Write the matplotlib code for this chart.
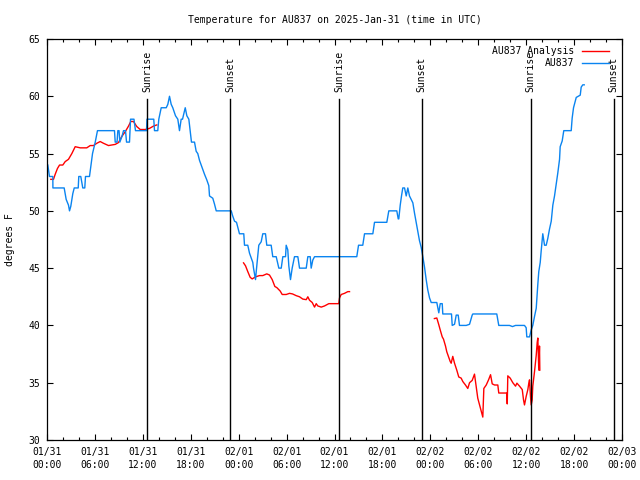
"""Temperature trace for station AU837 with analysis overlay and sun lines."""

import matplotlib

matplotlib.use("Agg")
import matplotlib.dates as mdates
import matplotlib.pyplot as plt
import matplotlib.transforms as mtransforms
import numpy as np
import pandas as pd

START = pd.Timestamp("2025-01-31 00:00")
TITLE = "Temperature for AU837 on 2025-Jan-31 (time in UTC)"

# observed temperature, hours after START and degrees F
obs_hours = [
    0.10, 0.31, 0.73, 0.74, 2.15, 2.40, 2.69, 2.82, 2.98, 3.23, 3.41, 3.91,
    3.98, 4.23, 4.48, 4.73, 4.82, 5.32, 5.70, 6.04, 6.32, 8.45, 8.54, 8.77,
    8.87, 9.02, 9.12, 9.39, 9.58, 9.83, 9.96, 10.33, 10.46, 10.89, 11.08,
    12.46, 12.52, 13.37, 13.46, 13.87, 14.00, 14.30, 14.93, 15.13, 15.34,
    15.55, 15.75, 16.09, 16.38, 16.59, 16.80, 16.97, 17.31, 17.51, 17.76,
    17.93, 18.09, 18.47, 18.68, 18.88, 19.10, 19.31, 19.51, 19.72, 20.01,
    20.26, 20.35, 20.76, 20.97, 21.19, 23.07, 23.23, 23.48, 23.73, 23.98,
    24.10, 24.64, 24.73, 25.14, 25.36, 25.57, 25.77, 25.86, 26.11, 26.20,
    26.52, 26.82, 27.02, 27.36, 27.52, 28.07, 28.27, 28.70, 29.03, 29.33,
    29.53, 29.87, 29.95, 30.15, 30.28, 30.49, 30.70, 30.99, 31.41, 31.62,
    32.46, 32.66, 32.96, 33.08, 33.28, 33.50, 38.79, 39.01, 39.54, 39.76,
    40.80, 41.01, 42.55, 42.80, 43.80, 43.98, 44.05, 44.23, 44.39, 44.55,
    44.77, 44.98, 45.18, 45.39, 45.81, 46.02, 46.23, 46.43, 46.64, 46.86,
    47.06, 47.27, 47.48, 47.68, 47.90, 48.11, 48.81, 49.06, 49.24, 49.49,
    49.56, 50.65, 50.74, 51.03, 51.24, 51.49, 51.65, 52.49, 52.91, 53.24,
    53.32, 56.32, 56.57, 57.91, 58.29, 58.67, 59.79, 60.00, 60.08, 60.42,
    60.63, 60.83, 61.05, 61.26, 61.46, 61.58, 61.76, 61.88, 62.08, 62.17,
    62.30, 62.51, 62.71, 62.92, 63.14, 63.34, 63.55, 63.76, 63.96, 64.18,
    64.26, 64.51, 64.71, 65.64, 65.76, 65.93, 66.27, 66.77, 66.89, 67.09,
    67.27,
]
obs_temp = [
    54.0, 53.0, 53.0, 52.0, 52.0, 51.0, 50.5, 50.0, 50.4, 51.5, 52.0, 52.0,
    53.0, 53.0, 52.0, 52.0, 53.0, 53.0, 55.0, 56.0, 57.0, 57.0, 56.0, 56.0,
    57.0, 57.0, 56.0, 56.5, 57.0, 57.0, 56.0, 56.0, 58.0, 58.0, 57.0,
    57.0, 58.0, 58.0, 57.0, 57.0, 58.0, 59.0, 59.0, 59.3, 60.0,
    59.3, 59.0, 58.3, 58.0, 57.0, 58.0, 58.0, 59.0, 58.3, 58.0,
    57.0, 56.0, 56.0, 55.2, 55.0, 54.4, 54.0, 53.6, 53.2, 52.7,
    52.2, 51.3, 51.1, 50.6, 50.0, 50.0, 49.6, 49.1, 49.0, 48.3,
    48.0, 48.0, 47.0, 47.0, 46.3, 45.9, 45.5, 45.0, 44.0, 44.7,
    47.0, 47.3, 48.0, 48.0, 47.0, 47.0, 46.0, 46.0, 45.0, 45.0,
    46.0, 46.0, 47.0, 46.6, 45.2, 44.0, 45.0, 46.0, 46.0, 45.0,
    45.0, 46.0, 46.0, 45.0, 45.7, 46.0, 46.0, 47.0, 47.0, 48.0,
    48.0, 49.0, 49.0, 50.0, 50.0, 49.3, 49.3, 50.5, 51.3, 52.0,
    52.0, 51.3, 52.0, 51.3, 50.7, 49.8, 49.0, 48.2, 47.4, 46.8,
    46.0, 45.1, 44.0, 43.1, 42.4, 42.0, 42.0, 41.1, 41.9, 41.9,
    41.0, 41.0, 40.0, 40.1, 40.9, 40.9, 40.0, 40.0, 40.1, 40.9,
    41.0, 41.0, 40.0, 40.0, 39.9, 40.0, 40.0, 39.8, 39.0, 39.0,
    39.6, 40.0, 40.8, 41.5, 43.6, 44.7, 45.5, 46.5, 48.0, 47.6,
    47.0, 47.0, 47.6, 48.4, 49.1, 50.5, 51.3, 52.3, 53.3, 54.5,
    55.6, 56.1, 57.0, 57.0, 58.1, 59.0, 59.9, 60.1, 60.8, 61.0,
    61.0,
]

# analysis temperature, nan marks gaps in the analysis
ana_hours = [
    0.48, 0.81, 1.03, 1.31, 1.57, 1.98, 2.28, 2.69, 3.11, 3.53, 4.16, 4.98,
    5.41, 5.82, 6.24, 6.66, 7.07, 7.70, 8.54, 8.95, 9.37, 9.79, 10.21, 10.49,
    10.83, 11.24, 11.67, 12.30, 12.84, 13.34, 13.75, np.nan,
    24.61, 24.86, 25.14, 25.44, 25.69, 26.11, 26.61, 27.02, 27.52, 27.86,
    28.20, 28.53, 28.78, 29.20, 29.45, 29.95, 30.37, 30.74, 31.20, 31.62,
    32.03, 32.46, 32.66, 32.87, 33.21, 33.50, 33.71, 33.91, 34.34, 34.75,
    35.29, 36.21, 36.54, 36.63, 36.84, 37.25, 37.67, 37.88, np.nan,
    48.51, 48.81, 49.06, 49.24, 49.49, 49.65, 49.90, 50.06, 50.31, 50.49,
    50.61, 50.81, 51.03, 51.31, 51.56, 51.86, 52.07, 52.40, 52.69, 52.91,
    53.24, 53.53, 53.74, 53.94, 54.37, 54.57, 54.70, 55.00, 55.29, 55.54,
    55.75, 56.04, 56.45, 56.57, 57.58, 57.63, 57.70, 58.00, 58.33, 58.67,
    58.84, 59.17, 59.51, 59.67, 59.79, 60.00, 60.21, 60.33, 60.42, 60.54,
    60.63, 60.75, 60.83, 61.05, 61.26, 61.38, 61.46, 61.51, 61.58, 61.67,
    61.71,
]
ana_temp = [
    52.75, 52.75, 53.2, 53.7, 54.0, 54.0, 54.3, 54.5, 55.0, 55.6, 55.5, 55.5,
    55.7, 55.7, 55.9, 56.05, 55.9, 55.7, 55.8, 55.96, 56.5, 56.9, 57.4, 57.8,
    57.8, 57.36, 57.1, 57.1, 57.2, 57.4, 57.5, np.nan,
    45.46, 45.2, 44.7, 44.2, 44.06, 44.24, 44.35, 44.35, 44.5, 44.4,
    44.0, 43.4, 43.3, 43.0, 42.7, 42.7, 42.8, 42.75, 42.6, 42.5,
    42.3, 42.25, 42.5, 42.2, 42.0, 41.6, 41.9, 41.7, 41.6, 41.7,
    41.9, 41.9, 41.9, 42.4, 42.7, 42.8, 42.95, 42.95, np.nan,
    40.6, 40.65, 40.06, 39.6, 39.0, 38.8, 38.2, 37.7, 37.2, 36.85,
    36.7, 37.3, 36.7, 36.1, 35.5, 35.4, 35.1, 34.8, 34.5, 35.0,
    35.2, 35.75, 34.7, 33.65, 32.5, 32.0, 34.5, 34.8, 35.25, 35.7,
    34.9, 34.8, 34.8, 34.1, 34.1, 33.15, 35.6, 35.4, 35.0, 34.7,
    34.96, 34.7, 34.4, 33.5, 33.06, 33.8, 34.4, 34.96, 35.25, 33.8,
    33.06, 33.5, 34.7, 36.0, 37.4, 38.5, 38.9, 37.6, 36.1, 38.2,
    36.1,
]

# sunrise / sunset, hours after START
sun_hours = [12.55, 22.93, 36.55, 46.92, 60.55, 70.95]
sun_labels = ["Sunrise", "Sunset", "Sunrise", "Sunset", "Sunrise", "Sunset"]

OBS_COLOR = "#0a84f0"
ANA_COLOR = "#ff0000"
FONT = "DejaVu Sans Mono"


def to_times(hours):
    return START + pd.to_timedelta(np.asarray(hours, dtype=float), unit="h")


def main() -> None:
    plt.rcParams["font.family"] = FONT
    plt.rcParams["font.size"] = 7

    fig = plt.figure(figsize=(6.4, 4.8), dpi=100, facecolor="white")
    ax = fig.add_axes([47 / 640, 40 / 480, 575 / 640, 401 / 480])

    ax.plot(to_times(ana_hours), ana_temp, color=ANA_COLOR, linewidth=1.0)
    ax.plot(to_times(obs_hours), obs_temp, color=OBS_COLOR, linewidth=1.0)

    trans = mtransforms.blended_transform_factory(ax.transData, ax.transAxes)
    for hour, label in zip(sun_hours, sun_labels):
        t = mdates.date2num(to_times([hour])[0])
        ax.plot([t, t], [0.0, 0.85], color="black", linewidth=1.0, transform=trans)
        ax.text(t, 0.868, label, rotation=90, ha="center", va="bottom",
                transform=trans, fontsize=7)

    ax.set_xlim(START, START + pd.Timedelta(hours=72))
    ax.set_ylim(30, 65)
    ax.set_yticks(range(30, 66, 5))

    ax.xaxis.set_major_locator(mdates.HourLocator(byhour=[0, 6, 12, 18]))
    ax.xaxis.set_minor_locator(mdates.HourLocator(interval=2))
    ax.xaxis.set_major_formatter(mdates.DateFormatter("%m/%d\n%H:%M"))
    for lab in ax.get_xticklabels():
        lab.set_linespacing(1.35)

    ax.tick_params(axis="both", which="major", direction="in", length=4.5,
                   width=0.8, top=True, right=True, labelsize=7)
    ax.tick_params(axis="x", which="minor", direction="in", length=2.2,
                   width=0.8, top=True)
    ax.tick_params(axis="x", which="major", pad=5)
    ax.tick_params(axis="y", which="major", pad=5)
    for spine in ax.spines.values():
        spine.set_linewidth(0.9)
        spine.set_color("black")

    # legend in the gnuplot layout: text on the left, key line on the right
    entries = [("AU837 Analysis", ANA_COLOR, 0.971), ("AU837", OBS_COLOR, 0.941)]
    for text, color, ypos in entries:
        ax.text(0.9165, ypos, text, ha="right", va="center",
                transform=ax.transAxes, fontsize=7)
        ax.plot([0.930, 0.978], [ypos, ypos], color=color, linewidth=1.0,
                transform=ax.transAxes)

    fig.text(334.5 / 640, 1 - 20 / 480, TITLE, ha="center", va="center", fontsize=7)
    fig.text(10 / 640, 1 - 240 / 480, "degrees F", rotation=90,
             ha="center", va="center", fontsize=7)

    fig.savefig("out.png", dpi=100, facecolor="white")
    plt.close(fig)


if __name__ == "__main__":
    main()
